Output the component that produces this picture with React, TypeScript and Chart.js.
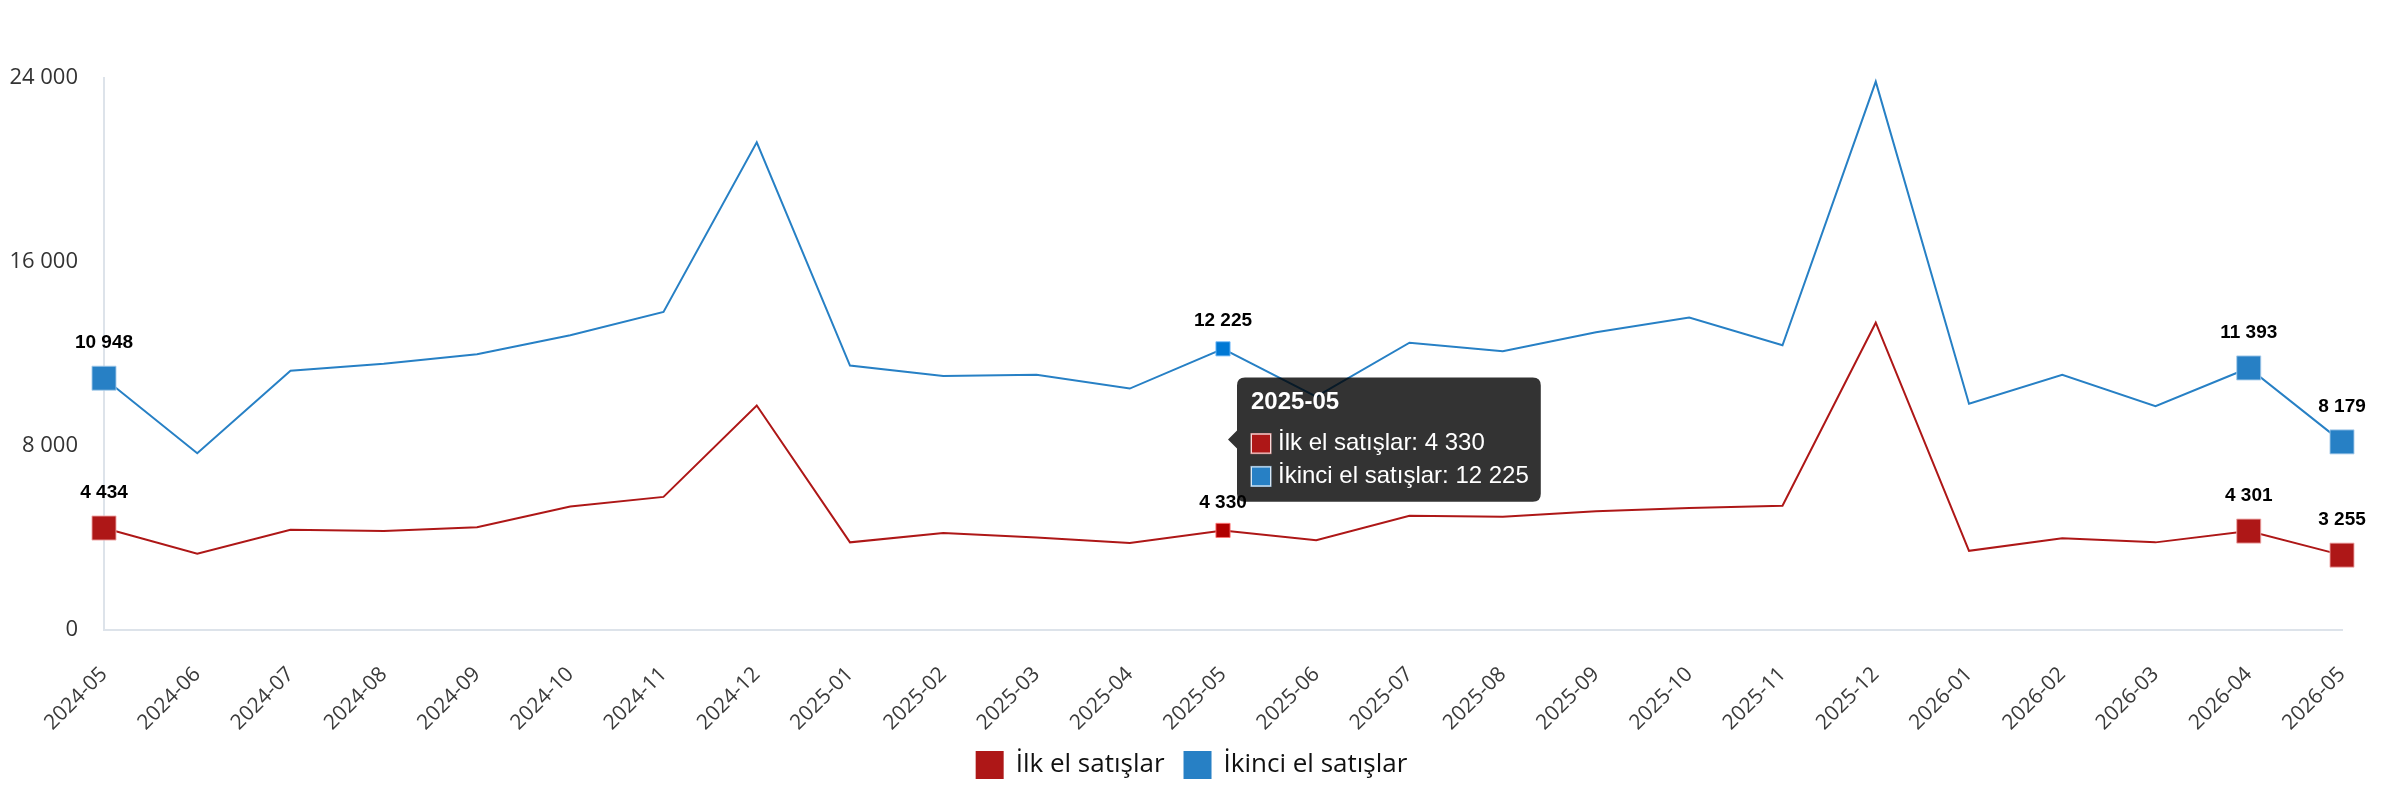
import React, { useEffect, useRef } from "react";
import { Chart, registerables } from "chart.js";

Chart.register(...registerables);

const months = [
  "2024-05", "2024-06", "2024-07", "2024-08", "2024-09", "2024-10", "2024-11", "2024-12",
  "2025-01", "2025-02", "2025-03", "2025-04", "2025-05", "2025-06", "2025-07", "2025-08",
  "2025-09", "2025-10", "2025-11", "2025-12", "2026-01", "2026-02", "2026-03", "2026-04", "2026-05",
];

const ilkEl = [
  4434, 3312, 4357, 4309, 4469, 5370, 5788, 9759,
  3810, 4212, 4019, 3778, 4330, 3907, 4968, 4920,
  5161, 5305, 5402, 13360, 3441, 3987, 3810, 4301, 3255,
];

const ikinciEl = [
  10948, 7685, 11270, 11576, 11994, 12814, 13826, 21206,
  11495, 11045, 11093, 10498, 12225, 10150, 12492, 12122,
  12942, 13585, 12379, 23842, 9839, 11093, 9727, 11393, 8179,
];

const seriesNames = ["İlk el satışlar", "İkinci el satışlar"];
const yTicks = [0, 8000, 16000, 24000];
const markedIndices = [0, 23, 24];
const labelIndices = [0, 12, 23, 24];
const hoverIndex = 12;

const RED = "#ae1717";
const BLUE = "#2780c5";

const fmt = (v: number) => String(Math.round(v)).replace(/\B(?=(\d{3})+(?!\d))/g, " ");

const radii = months.map((_, i) => (markedIndices.includes(i) ? 17 : 0));

const valueLabels = {
  id: "valueLabels",
  afterDraw(chart: any) {
    const ctx = chart.ctx;
    ctx.save();
    ctx.font = "bold 19px 'Liberation Sans', Arial, sans-serif";
    ctx.fillStyle = "#000";
    ctx.textAlign = "center";
    ctx.textBaseline = "middle";
    chart.data.datasets.forEach((ds: any, di: number) => {
      const meta = chart.getDatasetMeta(di);
      labelIndices.forEach((i) => {
        const el = meta.data[i];
        if (!el) return;
        const r = el.options?.radius ?? 0;
        ctx.fillText(fmt(ds.data[i]), el.x, el.y - r - 18);
      });
    });
    ctx.restore();
  },
};

export default function App() {
  const ref = useRef<HTMLCanvasElement | null>(null);

  useEffect(() => {
    if (!ref.current) return;
    const chart = new Chart(ref.current, {
      type: "line",
      data: {
        labels: months,
        datasets: [
          {
            label: seriesNames[0],
            data: ilkEl,
            borderColor: RED,
            backgroundColor: RED,
            borderWidth: 2,
            pointStyle: "rect",
            pointRadius: radii,
            pointHoverRadius: 10,
            pointBorderColor: "rgba(240,170,170,0.9)",
            pointBorderWidth: 1,
            tension: 0,
          },
          {
            label: seriesNames[1],
            data: ikinciEl,
            borderColor: BLUE,
            backgroundColor: BLUE,
            borderWidth: 2,
            pointStyle: "rect",
            pointRadius: radii,
            pointHoverRadius: 10,
            pointBorderColor: "rgba(170,205,235,0.9)",
            pointBorderWidth: 1,
            tension: 0,
          },
        ],
      },
      options: {
        responsive: true,
        maintainAspectRatio: false,
        animation: false,
        events: [],
        layout: { padding: { top: 70, right: 2, left: 2, bottom: 4 } },
        interaction: { mode: "index", intersect: false },
        scales: {
          x: {
            grid: { display: false, drawTicks: false },
            border: { display: true, color: "#dde3ea", width: 2 },
            afterFit: (scale: any) => {
              scale.height = 102;
              scale.paddingLeft = 0;
              scale.paddingRight = 34;
            },
            ticks: {
              color: "#3a3a3a",
              font: { family: "'Open Sans', sans-serif", size: 21 },
              maxRotation: 45,
              minRotation: 45,
              padding: 32,
              autoSkip: false,
            },
          },
          y: {
            min: 0,
            max: 24000,
            afterBuildTicks: (axis: any) => {
              axis.ticks = yTicks.map((v) => ({ value: v }));
            },
            afterFit: (scale: any) => {
              scale.width = 94;
            },
            grid: { display: false, drawTicks: false },
            border: { display: true, color: "#dde3ea", width: 2 },
            ticks: {
              color: "#333",
              font: { family: "'Open Sans', sans-serif", size: 22 },
              padding: 26,
              callback: (v: any) => fmt(Number(v)),
            },
          },
        },
        plugins: {
          legend: {
            position: "bottom",
            labels: {
              boxWidth: 26,
              boxHeight: 26,
              padding: 20,
              color: "#111",
              font: { family: "'Open Sans', sans-serif", size: 26 },
            },
          },
          tooltip: {
            enabled: true,
            mode: "index",
            intersect: false,
            position: "average",
            xAlign: "left",
            yAlign: "center",
            backgroundColor: "rgba(0,0,0,0.8)",
            titleColor: "#fff",
            bodyColor: "#fff",
            titleFont: { family: "'Liberation Sans', Arial, sans-serif", size: 24, weight: "bold" },
            bodyFont: { family: "'Liberation Sans', Arial, sans-serif", size: 24 },
            padding: { top: 11, bottom: 11, left: 14, right: 12 },
            caretSize: 9,
            caretPadding: 5,
            cornerRadius: 8,
            titleMarginBottom: 12,
            bodySpacing: 4,
            boxWidth: 20,
            boxHeight: 20,
            boxPadding: 5,
            callbacks: {
              label: (c: any) => `${c.dataset.label}: ${fmt(c.parsed.y)}`,
            },
          },
        },
      },
      plugins: [valueLabels],
    });

    const active = [
      { datasetIndex: 0, index: hoverIndex },
      { datasetIndex: 1, index: hoverIndex },
    ];
    chart.setActiveElements(active);
    chart.tooltip?.setActiveElements(active, { x: 0, y: 0 });
    chart.update();

    return () => chart.destroy();
  }, []);

  return (
    <div style={{ width: "2368px", height: "784px", position: "relative" }}>
      <canvas ref={ref} />
    </div>
  );
}
